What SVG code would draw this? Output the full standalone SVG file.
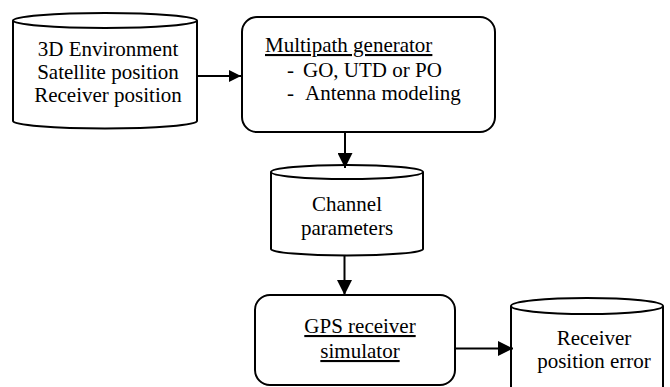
<svg xmlns="http://www.w3.org/2000/svg" width="670" height="387" viewBox="0 0 670 387">
<style>
.s{fill:#fff;stroke:#000;stroke-width:2}
.t{font-family:"Liberation Serif","Times New Roman",serif;font-size:21px;fill:#000}
.c{text-anchor:middle}
.u{text-decoration:underline}
.e{fill:none;stroke:#000;stroke-width:2}
</style>
<defs>
<marker id="ah" viewBox="0 0 12 12" refX="12" refY="6" markerWidth="12" markerHeight="12" markerUnits="userSpaceOnUse" orient="auto">
<path d="M0,0 L12,6 L0,12 z" fill="#000"/>
</marker>
<marker id="ahl" viewBox="0 0 15 15" refX="15" refY="7.5" markerWidth="15" markerHeight="15" markerUnits="userSpaceOnUse" orient="auto">
<path d="M0,0 L15,7.5 L0,15 z" fill="#000"/>
</marker>
</defs>
<rect width="670" height="387" fill="#fff"/>
<g id="env">
<path class="s" d="M13,20.5 L13,121 A92,7.5 0 0 0 197,121 L197,20.5"/>
<ellipse class="s" cx="105" cy="20.5" rx="92" ry="7.5"/>
<text class="t c" x="108" y="56">3D Environment</text>
<text class="t c" x="108" y="79">Satellite position</text>
<text class="t c" x="108" y="102">Receiver position</text>
</g>
<g id="multipath">
<rect class="s" x="242" y="17" width="253" height="115" rx="15" ry="15"/>
<text class="t u" x="265" y="52">Multipath generator</text>
<text class="t" x="287" y="77">-</text>
<text class="t" x="303" y="77">GO, UTD or PO</text>
<text class="t" x="287" y="100">-</text>
<text class="t" x="305" y="100">Antenna modeling</text>
</g>
<g id="channel">
<path class="s" d="M271,172 L271,249 A76,6.5 0 0 0 423,249 L423,172"/>
<ellipse class="s" cx="347" cy="172" rx="76" ry="7"/>
<text class="t c" x="347" y="211">Channel</text>
<text class="t c" x="347" y="235">parameters</text>
</g>
<g id="gps">
<rect class="s" x="255" y="295" width="200" height="90" rx="15" ry="15"/>
<text class="t c u" x="360" y="333">GPS receiver</text>
<text class="t c u" x="360" y="358">simulator</text>
</g>
<g id="error">
<path class="s" d="M511,306 L511,400 L663,400 L663,306"/>
<ellipse class="s" cx="587" cy="306" rx="76" ry="8"/>
<text class="t c" x="594" y="345">Receiver</text>
<text class="t c" x="594" y="368">position error</text>
</g>
<g id="connectors">
<line class="e" x1="197" y1="76" x2="241" y2="76" marker-end="url(#ah)"/>
<line class="e" x1="345" y1="132" x2="345" y2="168" marker-end="url(#ahl)"/>
<line class="e" x1="344.5" y1="256" x2="344.5" y2="295" marker-end="url(#ahl)"/>
<line class="e" x1="455" y1="348.5" x2="513" y2="348.5" marker-end="url(#ahl)"/>
</g>
</svg>
